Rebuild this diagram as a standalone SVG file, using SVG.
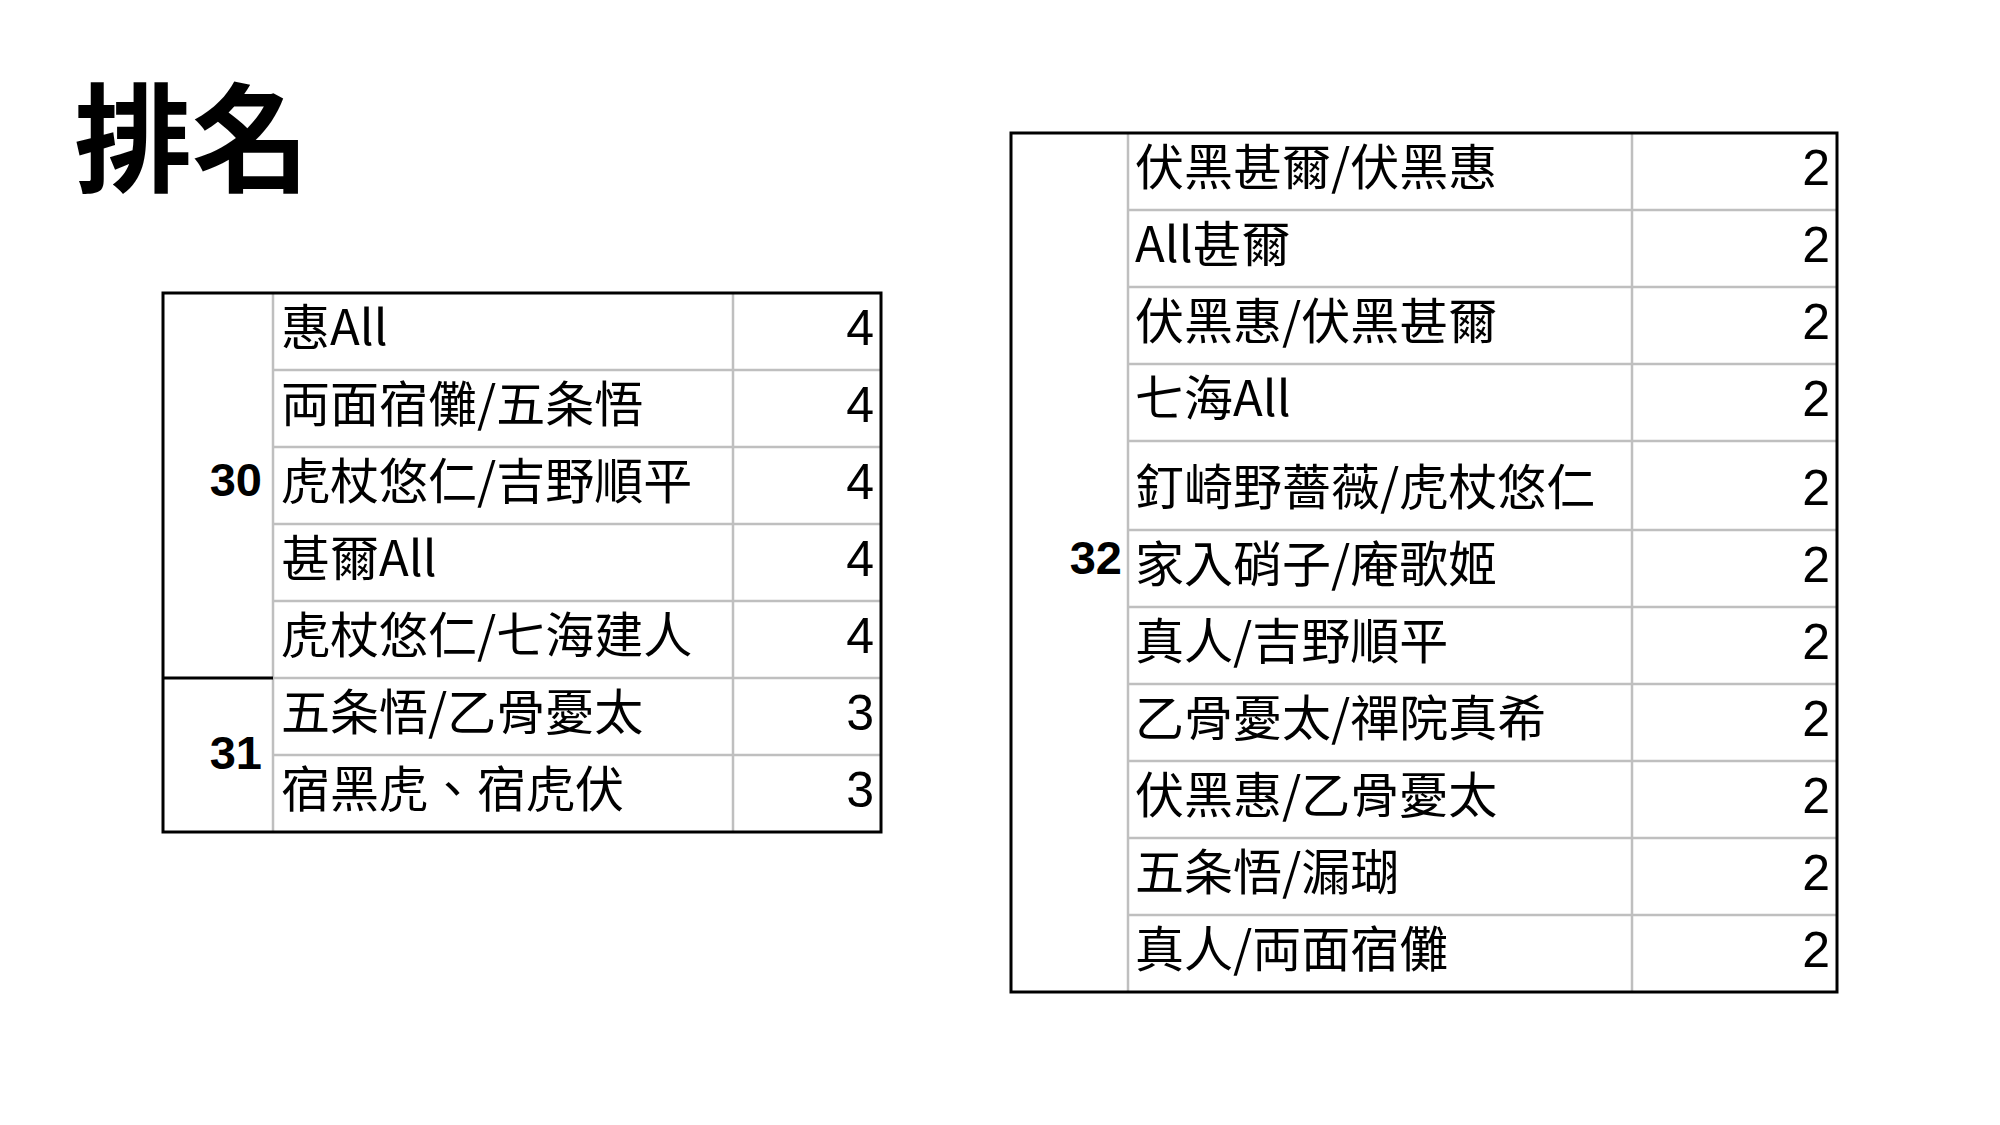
<svg xmlns="http://www.w3.org/2000/svg" width="2000" height="1125" viewBox="0 0 2000 1125">
<style>
.bg{fill:#ffffff}
.title{font-family:"Noto Sans CJK TC","Noto Sans CJK JP",sans-serif;font-weight:700;font-size:118px;fill:#000}
.name{font-family:"Noto Sans CJK TC","Noto Sans CJK JP",sans-serif;font-size:49px;fill:#000}
.num{font-family:"Liberation Sans",Arial,sans-serif;font-size:50px;fill:#000;text-anchor:end}
.rank{font-family:"Liberation Sans",Arial,sans-serif;font-weight:700;font-size:47px;fill:#000;text-anchor:end}
.grid{stroke:#bfbfbf;stroke-width:2.5;fill:none}
.frame{stroke:#000;stroke-width:3;fill:none}
</style>
<rect class="bg" x="0" y="0" width="2000" height="1125"/>
<text id="title" class="title" x="74" y="183">排名</text>

<g id="table-left">
  <g id="left-grid">
    <line class="grid" x1="273" y1="293" x2="273" y2="832"/>
    <line class="grid" x1="733" y1="293" x2="733" y2="832"/>
    <line class="grid" x1="273" y1="370" x2="881" y2="370"/>
    <line class="grid" x1="273" y1="447" x2="881" y2="447"/>
    <line class="grid" x1="273" y1="524" x2="881" y2="524"/>
    <line class="grid" x1="273" y1="601" x2="881" y2="601"/>
    <line class="grid" x1="273" y1="678" x2="881" y2="678"/>
    <line class="grid" x1="273" y1="755" x2="881" y2="755"/>
    <rect class="frame" x="163" y="293" width="718" height="539"/>
    <line class="frame" x1="163" y1="678" x2="273" y2="678"/>
  </g>
  <g id="rank-30"><text class="rank" x="262" y="496">30</text></g>
  <g id="rank-31"><text class="rank" x="262" y="769">31</text></g>
  <g id="l-row1"><text class="name" x="281" y="345">惠All</text><text class="num" x="874" y="345">4</text></g>
  <g id="l-row2"><text class="name" x="281" y="422">両面宿儺/五条悟</text><text class="num" x="874" y="422">4</text></g>
  <g id="l-row3"><text class="name" x="281" y="499">虎杖悠仁/吉野順平</text><text class="num" x="874" y="499">4</text></g>
  <g id="l-row4"><text class="name" x="281" y="576">甚爾All</text><text class="num" x="874" y="576">4</text></g>
  <g id="l-row5"><text class="name" x="281" y="653">虎杖悠仁/七海建人</text><text class="num" x="874" y="653">4</text></g>
  <g id="l-row6"><text class="name" x="281" y="730">五条悟/乙骨憂太</text><text class="num" x="874" y="730">3</text></g>
  <g id="l-row7"><text class="name" x="281" y="807">宿黑虎、宿虎伏</text><text class="num" x="874" y="807">3</text></g>
</g>

<g id="table-right">
  <g id="right-grid">
    <line class="grid" x1="1128" y1="133" x2="1128" y2="992"/>
    <line class="grid" x1="1632" y1="133" x2="1632" y2="992"/>
    <line class="grid" x1="1128" y1="210" x2="1837" y2="210"/>
    <line class="grid" x1="1128" y1="287" x2="1837" y2="287"/>
    <line class="grid" x1="1128" y1="364" x2="1837" y2="364"/>
    <line class="grid" x1="1128" y1="441" x2="1837" y2="441"/>
    <line class="grid" x1="1128" y1="530" x2="1837" y2="530"/>
    <line class="grid" x1="1128" y1="607" x2="1837" y2="607"/>
    <line class="grid" x1="1128" y1="684" x2="1837" y2="684"/>
    <line class="grid" x1="1128" y1="761" x2="1837" y2="761"/>
    <line class="grid" x1="1128" y1="838" x2="1837" y2="838"/>
    <line class="grid" x1="1128" y1="915" x2="1837" y2="915"/>
    <rect class="frame" x="1011" y="133" width="826" height="859"/>
  </g>
  <g id="rank-32"><text class="rank" x="1122" y="574">32</text></g>
  <g id="r-row1"><text class="name" x="1135" y="185">伏黑甚爾/伏黑惠</text><text class="num" x="1830" y="185">2</text></g>
  <g id="r-row2"><text class="name" x="1135" y="262">All甚爾</text><text class="num" x="1830" y="262">2</text></g>
  <g id="r-row3"><text class="name" x="1135" y="339">伏黑惠/伏黑甚爾</text><text class="num" x="1830" y="339">2</text></g>
  <g id="r-row4"><text class="name" x="1135" y="416">七海All</text><text class="num" x="1830" y="416">2</text></g>
  <g id="r-row5"><text class="name" x="1135" y="505">釘崎野薔薇/虎杖悠仁</text><text class="num" x="1830" y="505">2</text></g>
  <g id="r-row6"><text class="name" x="1135" y="582">家入硝子/庵歌姬</text><text class="num" x="1830" y="582">2</text></g>
  <g id="r-row7"><text class="name" x="1135" y="659">真人/吉野順平</text><text class="num" x="1830" y="659">2</text></g>
  <g id="r-row8"><text class="name" x="1135" y="736">乙骨憂太/禪院真希</text><text class="num" x="1830" y="736">2</text></g>
  <g id="r-row9"><text class="name" x="1135" y="813">伏黑惠/乙骨憂太</text><text class="num" x="1830" y="813">2</text></g>
  <g id="r-row10"><text class="name" x="1135" y="890">五条悟/漏瑚</text><text class="num" x="1830" y="890">2</text></g>
  <g id="r-row11"><text class="name" x="1135" y="967">真人/両面宿儺</text><text class="num" x="1830" y="967">2</text></g>
</g>

<g id="connectors"></g>
</svg>
